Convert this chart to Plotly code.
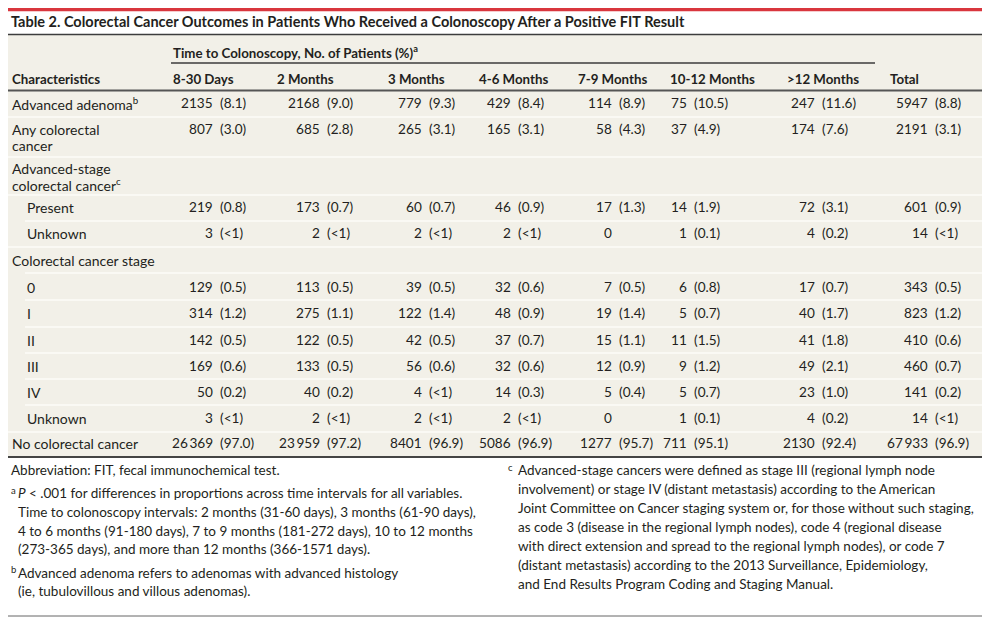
import plotly.graph_objects as go

# ---------------- data ----------------
title = "Table 2. Colorectal Cancer Outcomes in Patients Who Received a Colonoscopy After a Positive FIT Result"
group_header = "Time to Colonoscopy, No. of Patients (%)<sup>a</sup>"
stub_header = "Characteristics"
columns = ["8-30 Days", "2 Months", "3 Months", "4-6 Months", "7-9 Months",
           "10-12 Months", ">12 Months", "Total"]

# row labels (list of lines), indent level
row_labels = [
    ["Advanced adenoma<sup>b</sup>"],
    ["Any colorectal", "cancer"],
    ["Advanced-stage", "colorectal cancer<sup>c</sup>"],
    ["Present"],
    ["Unknown"],
    ["Colorectal cancer stage"],
    ["0"],
    ["I"],
    ["II"],
    ["III"],
    ["IV"],
    ["Unknown"],
    ["No colorectal cancer"],
]
row_levels = [0, 0, 0, 1, 1, 0, 1, 1, 1, 1, 1, 1, 0]

advanced_adenoma = ["2135 (8.1)", "2168 (9.0)", "779 (9.3)", "429 (8.4)", "114 (8.9)", "75 (10.5)", "247 (11.6)", "5947 (8.8)"]
any_crc = ["807 (3.0)", "685 (2.8)", "265 (3.1)", "165 (3.1)", "58 (4.3)", "37 (4.9)", "174 (7.6)", "2191 (3.1)"]
adv_stage_header = [""] * 8
adv_present = ["219 (0.8)", "173 (0.7)", "60 (0.7)", "46 (0.9)", "17 (1.3)", "14 (1.9)", "72 (3.1)", "601 (0.9)"]
adv_unknown = ["3 (<1)", "2 (<1)", "2 (<1)", "2 (<1)", "0", "1 (0.1)", "4 (0.2)", "14 (<1)"]
stage_header = [""] * 8
stage_0 = ["129 (0.5)", "113 (0.5)", "39 (0.5)", "32 (0.6)", "7 (0.5)", "6 (0.8)", "17 (0.7)", "343 (0.5)"]
stage_I = ["314 (1.2)", "275 (1.1)", "122 (1.4)", "48 (0.9)", "19 (1.4)", "5 (0.7)", "40 (1.7)", "823 (1.2)"]
stage_II = ["142 (0.5)", "122 (0.5)", "42 (0.5)", "37 (0.7)", "15 (1.1)", "11 (1.5)", "41 (1.8)", "410 (0.6)"]
stage_III = ["169 (0.6)", "133 (0.5)", "56 (0.6)", "32 (0.6)", "12 (0.9)", "9 (1.2)", "49 (2.1)", "460 (0.7)"]
stage_IV = ["50 (0.2)", "40 (0.2)", "4 (<1)", "14 (0.3)", "5 (0.4)", "5 (0.7)", "23 (1.0)", "141 (0.2)"]
stage_unknown = ["3 (<1)", "2 (<1)", "2 (<1)", "2 (<1)", "0", "1 (0.1)", "4 (0.2)", "14 (<1)"]
no_crc = ["26\u2009369 (97.0)", "23\u2009959 (97.2)", "8401 (96.9)", "5086 (96.9)", "1277 (95.7)", "711 (95.1)", "2130 (92.4)", "67\u2009933 (96.9)"]

row_values = [advanced_adenoma, any_crc, adv_stage_header, adv_present, adv_unknown,
              stage_header, stage_0, stage_I, stage_II, stage_III, stage_IV,
              stage_unknown, no_crc]

footnotes_left = [
    ("", ["Abbreviation: FIT, fecal immunochemical test."]),
    ("a", ["<i>P</i> < .001 for differences in proportions across time intervals for all variables.",
           "Time to colonoscopy intervals: 2 months (31-60 days), 3 months (61-90 days),",
           "4 to 6 months (91-180 days), 7 to 9 months (181-272 days), 10 to 12 months",
           "(273-365 days), and more than 12 months (366-1571 days)."]),
    ("b", ["Advanced adenoma refers to adenomas with advanced histology",
           "(ie, tubulovillous and villous adenomas)."]),
]
footnotes_right = [
    ("c", ["Advanced-stage cancers were defined as stage III (regional lymph node",
           "involvement) or stage IV (distant metastasis) according to the American",
           "Joint Committee on Cancer staging system or, for those without such staging,",
           "as code 3 (disease in the regional lymph nodes), code 4 (regional disease",
           "with direct extension and spread to the regional lymph nodes), or code 7",
           "(distant metastasis) according to the 2013 Surveillance, Epidemiology,",
           "and End Results Program Coding and Staging Manual."]),
]

# ---------------- layout (positions in page pixels) ----------------
PAGE_W, PAGE_H = 990, 620
OFF = 8  # default body margin of the html page
FONT = "Lato"
TXT = "#231f20"
BEIGE = "#f2f0e8"
LIGHT = "#fdfcf9"
LEFT, RIGHT = 3, 987

col_header_x = [171, 275, 386, 477, 576, 668, 785, 888]
paren_x = [218, 325, 427, 516, 617, 692, 820, 933]
row_y = [103, 129, 168, 207, 233, 260, 287, 313, 340, 366, 392, 418, 443]
line2_dy = 16
sep_lines = [(117, 0), (157, 0), (195, 0), (221, 1), (247, 0), (273, 1), (300, 1),
             (327, 1), (353, 1), (379, 1), (405, 1), (432, 0)]

LABEL = 14.0
NUM = 13.6
HEAD = 13.3
FOOT = 13.5

fig = go.Figure()
shapes = []
ann = []

def text(x, y, s, size=LABEL, anchor="left", bold=False, color=TXT):
    if bold:
        s = "<b>" + s + "</b>"
    ann.append(dict(x=max(x, OFF + 0.5), y=y, xref="x", yref="y", text=s, showarrow=False,
                    xanchor=anchor, yanchor="middle",
                    font=dict(family=FONT, size=size, color=color)))

def hline(y, x0, x1, color, width):
    shapes.append(dict(type="line", xref="x", yref="y", x0=x0, x1=x1, y0=y, y1=y,
                       line=dict(color=color, width=width), layer="above"))

# background of table
shapes.append(dict(type="rect", xref="x", yref="y", x0=LEFT, x1=RIGHT, y0=35, y1=457,
                   fillcolor=BEIGE, line=dict(width=0), layer="below"))
# rules
hline(9.7, LEFT, RIGHT, "#d9363e", 3.2)
hline(34.5, LEFT, RIGHT, "#3d3d3d", 1.5)
hline(63, 171, 875, "#3d3d3d", 1.5)
hline(90.5, LEFT, RIGHT, "#555555", 2)
for y, lvl in sep_lines:
    hline(y, 25 if lvl else LEFT, RIGHT, LIGHT, 1.5)
hline(457, LEFT, RIGHT, "#444444", 2)
hline(616, LEFT, RIGHT, "#666666", 1)

# title and headers
text(4, 21, title, size=14.5, bold=True)
text(171, 52, group_header, size=HEAD, bold=True)
text(10, 79, stub_header, size=HEAD, bold=True)
for cx, c in zip(col_header_x, columns):
    text(cx, 79, c, size=HEAD, bold=True)

# body rows
for lines, lvl, vals, y in zip(row_labels, row_levels, row_values, row_y):
    lx = 25 if lvl else 10
    for i, ln in enumerate(lines):
        text(lx, y + i * line2_dy, ln)
    for px, v in zip(paren_x, vals):
        if not v:
            continue
        if " (" in v:
            num, pct = v.split(" (", 1)
            text(px - 3.5, y, num, size=NUM, anchor="right")
            text(px, y, "(" + pct, size=NUM, anchor="left")
        else:
            text(px - 3.5, y, v, size=NUM, anchor="right")

# footnotes
def footnotes(blocks, x_sup, x_txt, y0, dy, gap):
    y = y0
    for sup, lines in blocks:
        if sup:
            ann.append(dict(x=max(x_sup, OFF + 0.5), y=y - 3, xref="x", yref="y", text=sup,
                            showarrow=False, xanchor="left", yanchor="middle",
                            font=dict(family=FONT, size=9.5, color=TXT)))
            tx = x_txt
        else:
            tx = x_sup
        for ln in lines:
            text(tx, y, ln, size=FOOT)
            y += dy
        y += gap

footnotes(footnotes_left, 5, 16, 470, 18.7, 4.5)
footnotes(footnotes_right, 506, 516, 470, 19, 0)

fig.update_layout(
    width=PAGE_W - OFF, height=PAGE_H - OFF, margin=dict(l=0, r=0, t=0, b=0),
    paper_bgcolor="white", plot_bgcolor="white",
    xaxis=dict(range=[OFF, PAGE_W], visible=False, fixedrange=True),
    yaxis=dict(range=[PAGE_H, OFF], visible=False, fixedrange=True),
    shapes=shapes, annotations=ann, showlegend=False,
)
fig.write_html("out.html")
